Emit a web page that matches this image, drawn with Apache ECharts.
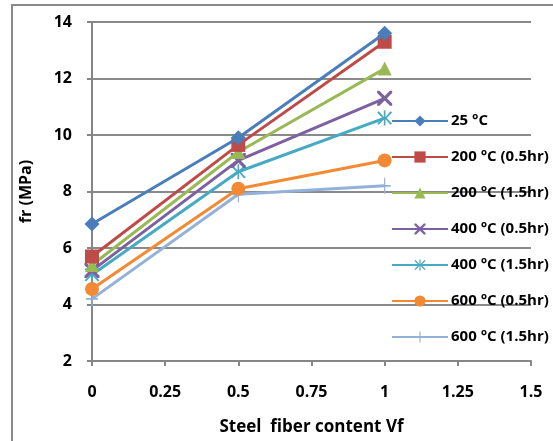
<!DOCTYPE html>
<html><head><meta charset="utf-8">
<script src="https://cdn.jsdelivr.net/npm/echarts@6/dist/echarts.min.js"></script>
<style>html,body{margin:0;padding:0;background:#fff}#c{width:553px;height:441px}</style>
</head><body><div id="c"></div>
<script>
const xValues = [0, 0.5, 1];
const seriesNames = ['25 °C', '200 °C (0.5hr)', '200 °C (1.5hr)', '400 °C (0.5hr)', '400 °C (1.5hr)', '600 °C (0.5hr)', '600 °C (1.5hr)'];
const s25 = [6.85, 9.9, 13.6];
const s200a = [5.7, 9.65, 13.3];
const s200b = [5.4, 9.4, 12.35];
const s400a = [5.2, 9.1, 11.3];
const s400b = [5.05, 8.7, 10.6];
const s600a = [4.55, 8.1, 9.1];
const s600b = [4.2, 7.9, 8.2];
const yTicks = [2, 4, 6, 8, 10, 12, 14];
const xTicks = [0, 0.25, 0.5, 0.75, 1, 1.25, 1.5];

const colors = ['#4A7EBB', '#BE4B48', '#98B954', '#7D60A0', '#46AAC5', '#F38A33', '#93B1D9'];
const X = 'path://M0,0 L3,0 L10,7 L17,0 L20,0 L20,3 L13,10 L20,17 L20,20 L17,20 L10,13 L3,20 L0,20 L0,17 L7,10 L0,3 Z';
const STAR = 'path://M9,0 L11,0 L11,8.5 L17,1 L19,2.5 L12.5,10 L19,17.5 L17,19 L11,11.5 L11,20 L9,20 L9,11.5 L3,19 L1,17.5 L7.5,10 L1,2.5 L3,1 L9,8.5 Z';
const PLUS = 'path://M9,0 L11,0 L11,9 L20,9 L20,11 L11,11 L11,20 L9,20 L9,11 L0,11 L0,9 L9,9 Z';
const symbols = ['diamond', 'rect', 'triangle', X, STAR, 'circle', PLUS];
const sizes = [15, 14, 14, 15, 15, 14, [12, 16]];
const dataSets = [s25, s200a, s200b, s400a, s400b, s600a, s600b];
const font = '"Open Sans", Lato, sans-serif';

const series = dataSets.map((d, i) => ({
  name: seriesNames[i],
  type: 'line',
  data: d.map((v, j) => [xValues[j], v]),
  symbol: symbols[i],
  symbolSize: sizes[i],
  showSymbol: true,
  lineStyle: { color: colors[i], width: 3 },
  itemStyle: { color: colors[i] },
  z: 10 - i,
  emphasis: { disabled: true }
}));

const chart = echarts.init(document.getElementById('c'), null, { renderer: 'canvas' });
chart.setOption({
  animation: false,
  color: colors,
  textStyle: { fontFamily: font },
  grid: { left: 92, right: 22, top: 22, bottom: 75, containLabel: false },
  graphic: [
    { type: 'polyline', shape: { points: [[12, 441], [12, 5], [553, 5]] }, style: { stroke: '#8a8a8a', lineWidth: 2, fill: null }, silent: true }
  ],
  xAxis: {
    type: 'value', min: 0, max: 1.5, interval: 0.25,
    name: 'Steel  fiber content Vf', nameLocation: 'middle', nameGap: 58,
    nameTextStyle: { fontSize: 17, fontWeight: 'bold', color: '#000', fontFamily: font },
    axisLine: { show: true, lineStyle: { color: '#868686', width: 2 } },
    axisTick: { show: true, length: 5, lineStyle: { color: '#868686', width: 2 } },
    axisLabel: { fontSize: 16, fontWeight: 'bold', color: '#000', margin: 23, fontFamily: font,
      formatter: v => String(v) },
    splitLine: { show: false }
  },
  yAxis: {
    type: 'value', min: 2, max: 14, interval: 2,
    name: 'fr (MPa)', nameLocation: 'middle', nameGap: 58, nameRotate: 90,
    nameTextStyle: { fontSize: 16, fontWeight: 'bold', color: '#000', fontFamily: font },
    axisLine: { show: true, lineStyle: { color: '#868686', width: 2 } },
    axisTick: { show: true, length: 5, lineStyle: { color: '#868686', width: 2 } },
    axisLabel: { fontSize: 16, fontWeight: 'bold', color: '#000', margin: 20, fontFamily: font },
    splitLine: { show: true, lineStyle: { color: '#8a8a8a', width: 2 } }
  },
  legend: {
    orient: 'vertical', left: 386, top: 108,
    itemWidth: 56, itemHeight: 14, itemGap: 20,
    textStyle: { fontSize: 15, fontWeight: 'bold', color: '#000', fontFamily: font, lineHeight: 16, padding: [0, 0, 0, -2] },
    data: seriesNames
  },
  series: series
});
</script></body></html>
